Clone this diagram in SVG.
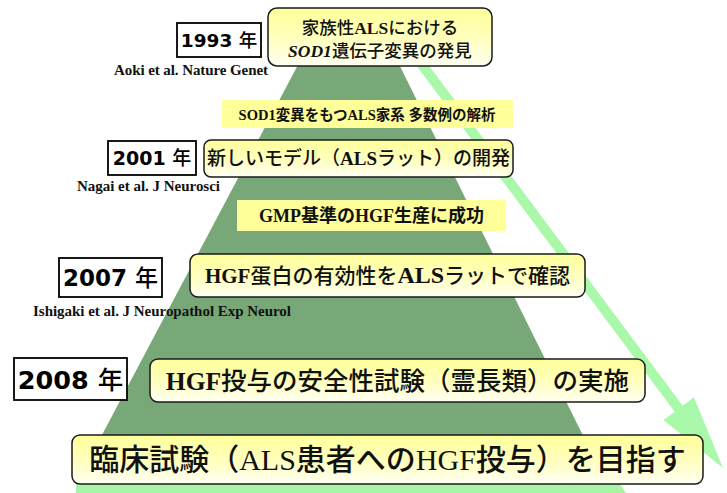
<svg xmlns="http://www.w3.org/2000/svg" width="727" height="493" viewBox="0 0 727 493">
<defs>
<linearGradient id="boxg" x1="0" y1="0" x2="0" y2="1">
<stop offset="0" stop-color="#ffff9a"/>
<stop offset="0.55" stop-color="#ffffc0"/>
<stop offset="1" stop-color="#fffff4"/>
</linearGradient>
<style>
.box{fill:url(#boxg);stroke:#1a1a1a;stroke-width:1.5}
.yr{fill:#fff;stroke:#000;stroke-width:1.8}
.hl{fill:#ffff99;stroke:none}
.yt{font-family:"DejaVu Sans","Noto Sans CJK JP",sans-serif;font-weight:bold;fill:#000;text-anchor:middle}
.yt .k{font-family:"Noto Sans CJK JP",sans-serif;font-weight:500}
.cit{font-family:"Liberation Serif",serif;font-weight:bold;font-size:15px;fill:#111}
.t{font-family:"Liberation Serif","Noto Sans CJK JP",sans-serif;font-weight:500;fill:#111;text-anchor:middle}
.b{font-weight:bold}
.hb{font-weight:bold}
</style>
</defs>
<rect width="727" height="493" fill="#fff"/>
<g id="pyramid">
<polygon points="324.4,15 374.6,15 607,484 76,484" fill="#78a878"/>
<polygon points="76,484 620,484 626,493 76,493" fill="#a8f5a8"/>
</g>
<g id="connectors">
<polygon points="424,59 682.7,405.7 693.9,397.3 723,468 663.5,420.1 674.7,411.7 416,65" fill="#aaf8aa"/>
</g>
<g id="n1993">
<rect class="yr" x="177" y="23" width="84" height="34"/>
<text class="yt" x="219" y="47" font-size="18.5">1993 <tspan class="k">年</tspan></text>
<text class="cit" x="114" y="75" textLength="154">Aoki et al. Nature Genet</text>
</g>
<g id="n1">
<rect class="box" x="268" y="8" width="224" height="58" rx="9"/>
<text class="t" x="380" y="34" font-size="17.5">家族性<tspan class="b">ALS</tspan>における</text>
<text class="t" x="380" y="57" font-size="17.5"><tspan class="b" font-style="italic">SOD1</tspan>遺伝子変異の発見</text>
</g>
<g id="n2">
<rect class="hl" x="222" y="100" width="291" height="28"/>
<text class="t hb" x="367" y="119.5" font-size="14.5">SOD1変異をもつALS家系 多数例の解析</text>
</g>
<g id="n2001">
<rect class="yr" x="108" y="141" width="88" height="34"/>
<text class="yt" x="152" y="165" font-size="19">2001 <tspan class="k">年</tspan></text>
<text class="cit" x="77" y="191" textLength="143">Nagai et al. J Neurosci</text>
</g>
<g id="n3">
<rect class="box" x="204" y="140" width="309" height="37" rx="7"/>
<text class="t" x="358.5" y="165" font-size="19">新しいモデル（<tspan class="b">ALS</tspan>ラット）の開発</text>
</g>
<g id="n4">
<rect class="hl" x="237" y="200" width="269" height="31"/>
<text class="t hb" x="371.5" y="222" font-size="18">GMP基準のHGF生産に成功</text>
</g>
<g id="n2007">
<rect class="yr" x="59" y="258" width="103" height="39"/>
<text class="yt" x="110.5" y="286" font-size="23">2007 <tspan class="k">年</tspan></text>
<text class="cit" x="33" y="316" textLength="258">Ishigaki et al. J Neuropathol Exp Neurol</text>
</g>
<g id="n5">
<rect class="box" x="190" y="254" width="395" height="43" rx="8"/>
<text class="t" x="387.5" y="283" font-size="21"><tspan class="b">HGF</tspan>蛋白の有効性を<tspan class="b" font-size="24">ALS</tspan>ラットで確認</text>
</g>
<g id="n2008">
<rect class="yr" x="14" y="358" width="113" height="42"/>
<text class="yt" x="70.5" y="389" font-size="25.5">2008 <tspan class="k">年</tspan></text>
</g>
<g id="n6">
<rect class="box" x="150" y="359" width="495" height="43" rx="8"/>
<text class="t" x="397.5" y="389.5" font-size="25.5"><tspan class="b">HGF</tspan>投与の安全性試験（霊長類）の実施</text>
</g>
<g id="n7">
<rect class="box" x="72" y="435" width="631" height="49" rx="8"/>
<text class="t" x="387.5" y="470" font-size="30">臨床試験（ALS患者へのHGF投与）を目指す</text>
</g>
</svg>
